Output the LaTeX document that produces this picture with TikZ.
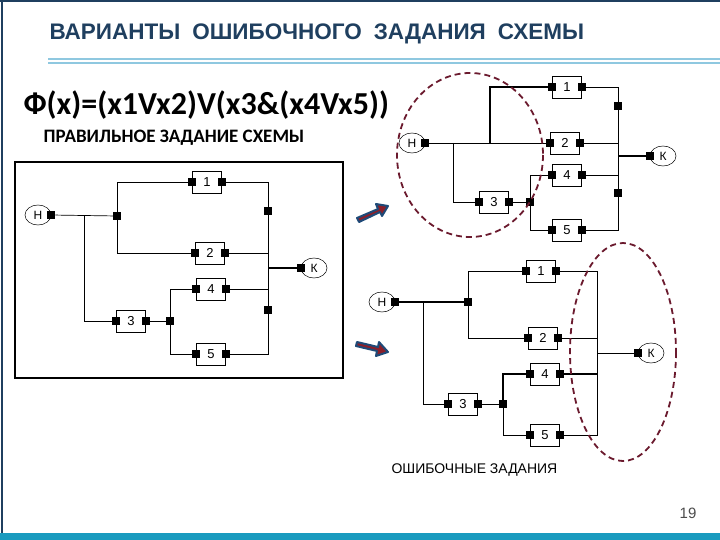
\documentclass[tikz,border=0pt]{standalone}
\usepackage{fontspec}
\setmainfont{Liberation Sans}
\newfontfamily\carl{Carlito}
\usetikzlibrary{shapes.geometric}
\definecolor{ttl}{HTML}{1F3F5F}
\definecolor{sep}{HTML}{8FC8E0}
\definecolor{bar}{HTML}{1A9BBF}
\definecolor{dred}{HTML}{6B1A2E}
\definecolor{abl}{HTML}{1E4A78}
\definecolor{ard}{HTML}{8A1F2A}
\tikzset{
 blk/.style={draw,line width=0.7pt,minimum width=29pt,minimum height=22pt,inner sep=0,font=\fontsize{13}{13}\selectfont},
 sq/.style={fill=black,minimum size=8pt,inner sep=0},
 term/.style={draw,ellipse,line width=0.5pt,minimum width=26pt,minimum height=20pt,inner sep=0,font=\fontsize{12}{12}\selectfont},
 wire/.style={line width=0.7pt},
 thk/.style={line width=1.6pt},
 dsh/.style={draw=dred,line width=1.8pt,dash pattern=on 6pt off 4pt},
 arr/.style={fill=ard,draw=abl,line width=2pt,line join=round}
}
\newcommand\Blk[4]{\node[blk] (#1) at (#2,#3) {#4};\node[sq] (#1l) at (#1.west) {};\node[sq] (#1r) at (#1.east) {};}
\begin{document}
\begin{tikzpicture}[x=1pt,y=-1pt]
\useasboundingbox (0,0) rectangle (720,540);
\fill[white] (0,0) rectangle (720,540);
% slide frame
\draw[ttl,line width=1.5pt] (0,1) -- (720,1);
\draw[ttl,line width=1.5pt] (2,0) -- (2,540);
\fill[bar] (0,533) rectangle (720,540);
\draw[sep,line width=1.2pt] (48,59) -- (720,59);
\draw[sep,line width=1.2pt] (48,63) -- (720,63);
\node[anchor=west,text=ttl,font=\bfseries\fontsize{22.5}{22.5}\selectfont] (title) at (46,34) {ВАРИАНТЫ\hspace{12pt}ОШИБОЧНОГО\hspace{12pt}ЗАДАНИЯ\hspace{12pt}СХЕМЫ};
\node[anchor=west,font=\carl\bfseries\fontsize{32}{32}\selectfont] (formula) at (20,105) {Ф(x)=(x1Vx2)V(x3\&(x4Vx5))};
\node[anchor=west,font=\carl\bfseries\fontsize{19}{19}\selectfont] (ok) at (40,138) {ПРАВИЛЬНОЕ ЗАДАНИЕ СХЕМЫ};
\node[anchor=west,font=\fontsize{14}{14}\selectfont] (err) at (388,470) {ОШИБОЧНЫЕ ЗАДАНИЯ};
\node[text=black!70,font=\fontsize{15}{15}\selectfont] (pg) at (688,513) {19};

% ===== left diagram
\draw[line width=1.2pt] (15,162) rectangle (343,378);
\node[term] (H) at (38,215) {Н}; \node[sq] (Hs) at (H.east) {};
\node[term] (K) at (314,268) {К}; \node[sq] (Ks) at (K.west) {};
\Blk{a1}{207}{182}{1}
\Blk{a2}{210}{253}{2}
\Blk{a4}{211}{289}{4}
\Blk{a3}{131}{321}{3}
\Blk{a5}{211}{354}{5}
\node[sq] (an1) at (117,216) {};
\node[sq] (an3) at (170,321) {};
\node[sq] (as1) at (268,211) {};
\node[sq] (as2) at (268,310) {};
\coordinate (aj) at (84,216);
\draw[wire] (Hs) -- (an1);
\draw[wire] (an1) |- (a1l);
\draw[wire] (an1) |- (a2l);
\draw[wire] (aj) |- (a3l);
\draw[wire] (a3r) -- (an3);
\draw[wire] (an3) |- (a4l);
\draw[wire] (an3) |- (a5l);
\draw[wire] (a1r) -| (as1) -- (as2) |- (a5r);
\draw[wire] (a2r) -- (a2r -| as1);
\draw[wire] (a4r) -- (a4r -| as1);
\draw[thk] (Ks) -- (Ks -| as1);

% ===== top right diagram
\node[term] (H2) at (412,143) {Н}; \node[sq] (H2s) at (H2.east) {};
\node[term] (K2) at (663,156) {К}; \node[sq] (K2s) at (K2.west) {};
\Blk{b1}{567}{87}{1}
\Blk{b2}{565}{143}{2}
\Blk{b4}{567}{175}{4}
\Blk{b3}{494}{202}{3}
\Blk{b5}{567}{230}{5}
\node[sq] (bn3) at (530,202) {};
\node[sq] (bs1) at (618,106) {};
\node[sq] (bs2) at (618,193) {};
\coordinate (bj1) at (490,143);
\coordinate (bj2) at (453,143);
\draw[wire] (H2s) -- (b2l);
\draw[wire,line width=1.2pt] (bj1) |- (b1l);
\draw[wire] (bj2) |- (b3l);
\draw[wire] (b3r) -- (bn3);
\draw[wire] (bn3) |- (b4l);
\draw[wire] (bn3) |- (b5l);
\draw[wire] (b1r) -| (bs1) -- (bs2) |- (b5r);
\draw[wire] (b2r) -- (b2r -| bs1);
\draw[wire] (b4r) -- (b4r -| bs1);
\draw[thk] (K2s) -- (K2s -| bs1);
\draw[dsh] (470,155) ellipse [x radius=73, y radius=82];

% ===== bottom right diagram
\node[term] (H3) at (382,302) {Н}; \node[sq] (H3s) at (H3.east) {};
\node[term] (K3) at (651,353) {К}; \node[sq] (K3s) at (K3.west) {};
\Blk{c1}{541}{271}{1}
\Blk{c2}{543}{338}{2}
\Blk{c4}{545}{374}{4}
\Blk{c3}{463}{404}{3}
\Blk{c5}{545}{435}{5}
\node[sq] (cn1) at (468,302) {};
\node[sq] (cn3) at (503,404) {};
\coordinate (cj) at (423,302);
\coordinate (crt) at (597,271);
\coordinate (crb) at (597,435);
\draw[thk] (H3s) -- (cn1);
\draw[wire] (cn1) |- (c1l);
\draw[wire] (cn1) |- (c2l);
\draw[wire] (cj) |- (c3l);
\draw[wire] (c3r) -- (cn3);
\draw[thk] (cn3) |- (c4l);
\draw[wire] (cn3) |- (c5l);
\draw[wire] (c1r) -- (c1r -| crt) -- (crb) -- (c5r);
\draw[thk] (c4r) -- (c4r -| crt);
\draw[wire] (c2r) -- (c2r -| crt);
\draw[wire] (K3s) -- (K3s -| crt);
\draw[dsh] (623,352) ellipse [x radius=53, y radius=109];

% ===== arrows
\draw[arr] (357,218) -- (378,209) -- (376,204) -- (388,206) -- (382,216) -- (380,212) -- (359,222) -- cycle;
\draw[arr] (357,342) -- (378,347) -- (379,342) -- (388,352) -- (376,356) -- (377,351) -- (356,346) -- cycle;
\end{tikzpicture}
\end{document}
